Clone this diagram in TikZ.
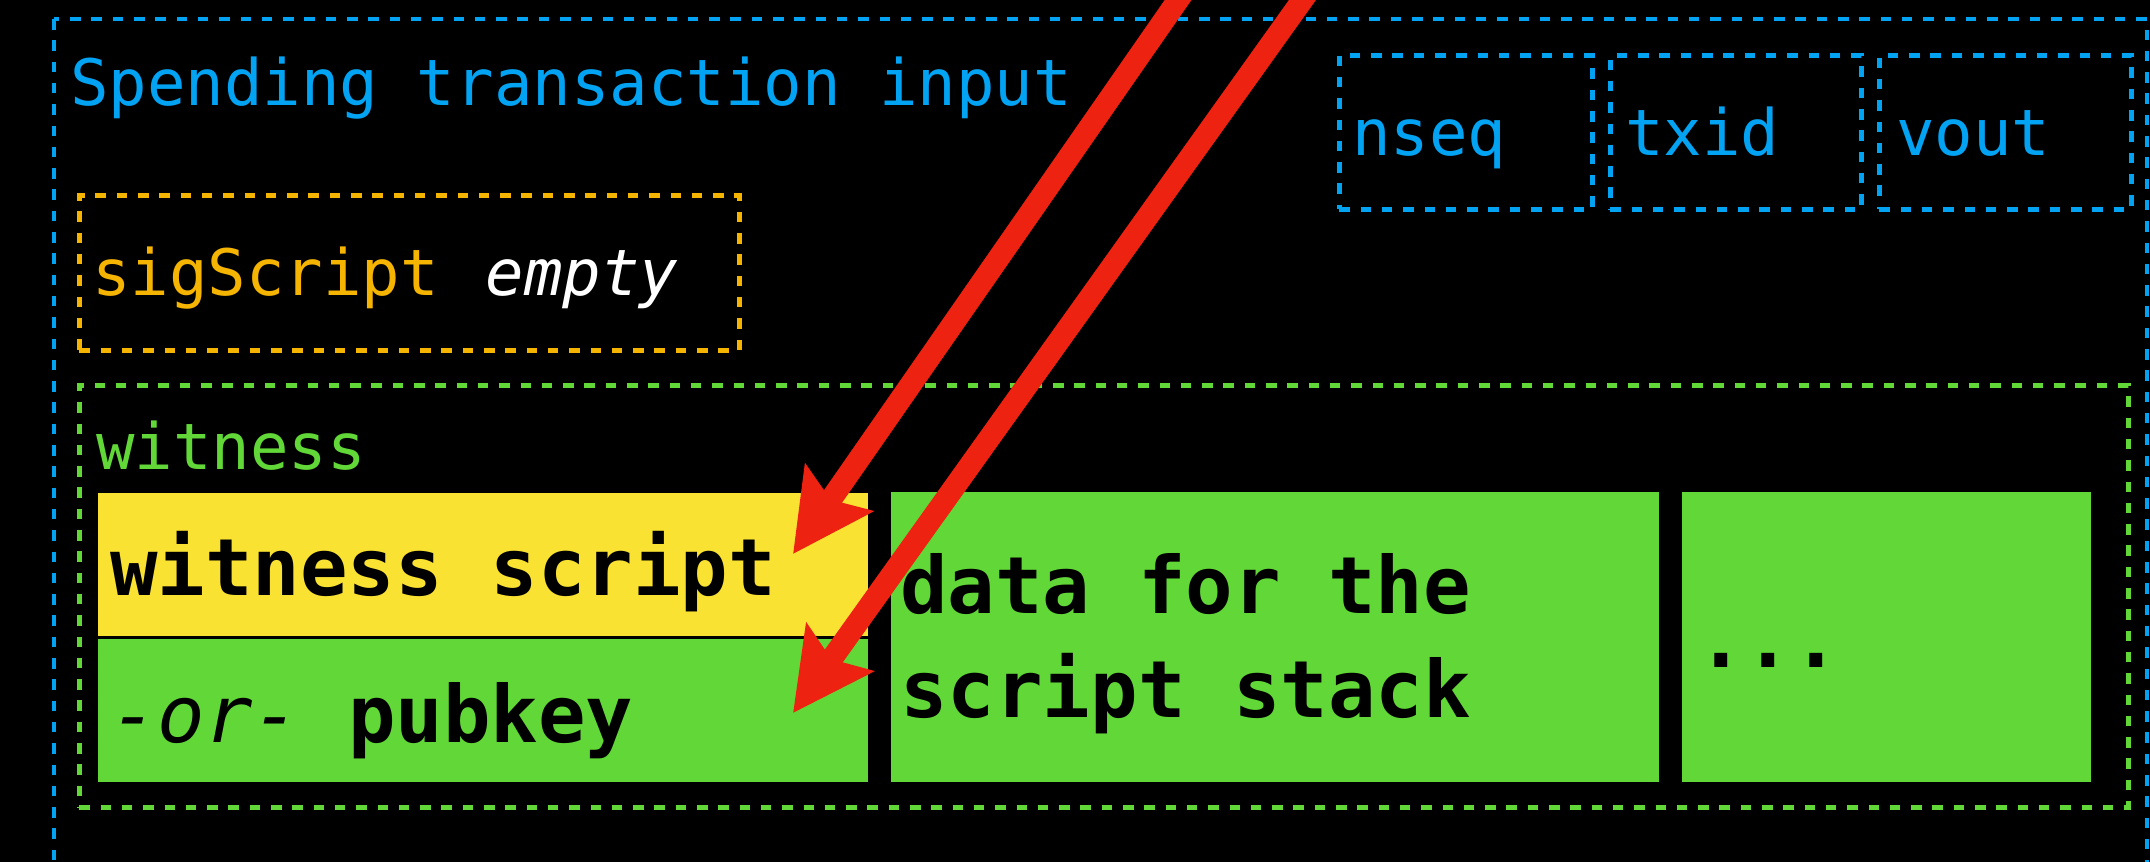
\documentclass[tikz,border=0pt]{standalone}
\usepackage{fontspec}
\setmonofont{DejaVu Sans Mono}
\usetikzlibrary{arrows.meta}

\definecolor{inblue}{HTML}{03A3F3}
\definecolor{sigorange}{HTML}{F5B400}
\definecolor{witgreen}{HTML}{62D838}
\definecolor{scriptyellow}{HTML}{FAE232}
\definecolor{arrowred}{HTML}{EE2210}

\tikzset{
  dashbox/.style={line width=4.6pt, dash pattern=on 10.5pt off 10.8pt},
  bluebox/.style={dashbox, draw=inblue},
  orangebox/.style={dashbox, draw=sigorange},
  greenbox/.style={dashbox, draw=witgreen},
  label/.style={inner sep=0pt, anchor=base west,
    font=\ttfamily\fontsize{64}{77}\selectfont},
  celltext/.style={inner sep=0pt, anchor=base west, text=black,
    font=\ttfamily\bfseries\fontsize{79}{104}\selectfont},
  cell/.style={inner sep=0pt, anchor=north west},
  pointer/.style={draw=arrowred, line width=22pt,
    -{Stealth[length=80pt, width=81pt, inset=14pt]}, arrowred},
}

\begin{document}
\begin{tikzpicture}[x=1pt, y=-1pt]
\clip (0,0) rectangle (2150,862);
\fill[black] (0,0) rectangle (2150,862);

% spending transaction input (runs on below the lower edge)
\draw[bluebox] (54,19) rectangle (2147,900);
\node[label, text=inblue] (title) at (70,105) {Spending transaction input};

% outpoint fields
\node[cell, bluebox, minimum width=253pt, minimum height=154pt] (nseqbox) at (1337,53) {};
\node[cell, bluebox, minimum width=251pt, minimum height=154pt] (txidbox) at (1608,53) {};
\node[cell, bluebox, minimum width=252pt, minimum height=154pt] (voutbox) at (1877,53) {};
\node[label, text=inblue] (nseq) at (1352,155) {nseq};
\node[label, text=inblue] (txid) at (1625,155) {txid};
\node[label, text=inblue] (vout) at (1896,155) {vout};

% signature script
\node[cell, orangebox, minimum width=660pt, minimum height=155pt] (sigbox) at (77,193) {};
\node[label, text=sigorange] (sig) at (92,295) {sigScript\hspace{8pt} \textcolor{white}{\itshape empty}};

% witness stack
\node[cell, greenbox, minimum width=2049pt, minimum height=422pt] (witbox) at (77,383) {};
\node[label, text=witgreen] (witlabel) at (96,469) {witness};

\node[cell, fill=scriptyellow, minimum width=770pt, minimum height=143pt] (wscript) at (98,493) {};
\node[cell, fill=witgreen, minimum width=770pt, minimum height=143pt] (pubkey) at (98,639) {};
\node[cell, fill=witgreen, minimum width=768pt, minimum height=290pt] (data) at (891,492) {};
\node[cell, fill=witgreen, minimum width=409pt, minimum height=290pt] (more) at (1682,492) {};

\node[celltext] (wscripttext) at (110,595) {witness script};
\node[celltext] (pubkeytext) at (110,742) {{\mdseries\itshape -or-} pubkey};
% the base anchor of a two-line node sits on its last line
\node[celltext, align=left] (datatext) at (900,717) {data for the\\script stack};
\node[celltext] (moretext) at (1697,667) {...};

% pointers coming in from above
\coordinate (src1) at (1201,-33);
\coordinate (tip1) at (793,554);
\coordinate (src2) at (1326,-33);
\coordinate (tip2) at (793,713);
\draw[pointer] (src1) -- (tip1);
\draw[pointer] (src2) -- (tip2);
\end{tikzpicture}
\end{document}
